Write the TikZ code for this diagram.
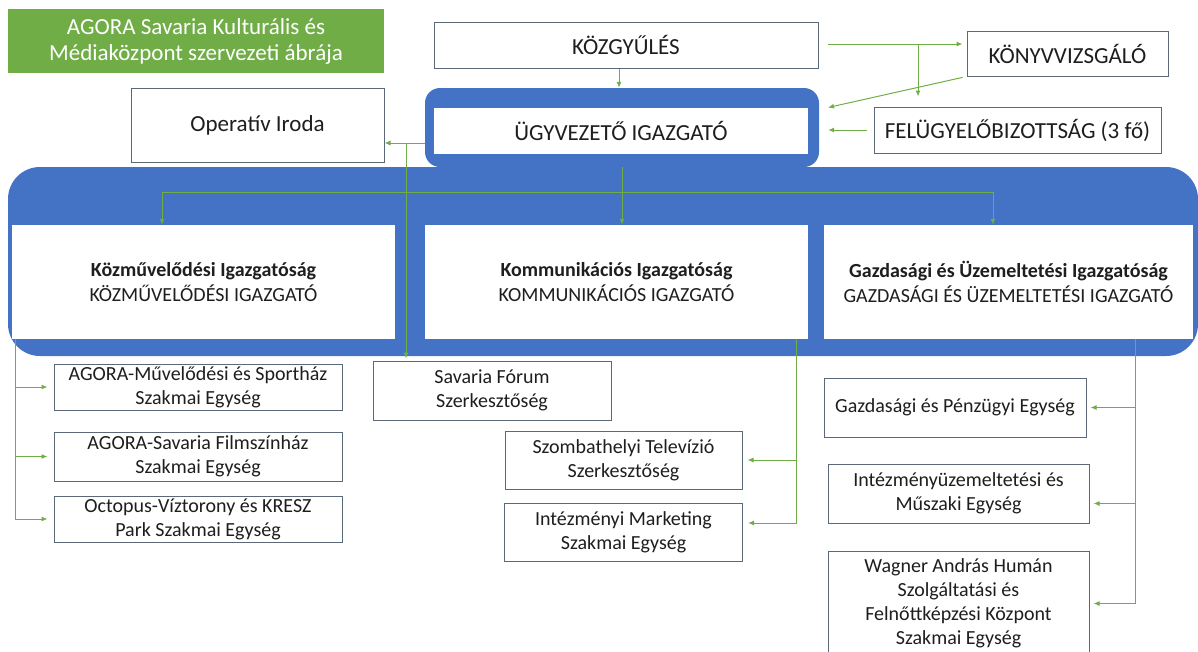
\documentclass[tikz,border=0pt]{standalone}
\usepackage{fontspec}
\setmainfont{Carlito}
\usetikzlibrary{positioning,arrows.meta}
\definecolor{agoragreen}{HTML}{70AD47}
\definecolor{agorablue}{HTML}{4472C4}
\definecolor{boxline}{HTML}{5A6878}
\definecolor{inktext}{HTML}{1E1E1E}

\begin{document}
\begin{tikzpicture}[x=1pt,y=-1pt,
	unitbox/.style={draw=boxline,line width=1pt,fill=white,text=inktext,align=center,inner sep=0pt,font=\fontsize{20}{24}\selectfont},
	topbox/.style={unitbox,font=\fontsize{23}{27}\selectfont},
	headbox/.style={fill=white,text=inktext,align=center,inner sep=0pt,minimum width=383pt,minimum height=114pt,font=\fontsize{20}{25}\selectfont},
	blueframe/.style={fill=agorablue,rounded corners=#1,inner sep=0pt},
	wire/.style={draw=agoragreen,line width=1pt},
	feed/.style={wire,-{Latex[length=6pt,width=5pt]}}]
		\useasboundingbox (0,0) rectangle (1198,651);

		\node[fill=agoragreen,text=white,align=center,inner sep=0pt,minimum width=376pt,minimum height=64pt,font=\fontsize{23}{26}\selectfont]	(title)	at (196,41)	{AGORA Savaria Kulturális és\\Médiaközpont szervezeti ábrája};

		\node[blueframe=32pt,minimum width=1190pt,minimum height=189pt]		(bigframe)	at (603,261.5)	{};
		\node[blueframe=15pt,minimum width=394pt,minimum height=79pt]		(ugyvframe)	at (622,127.5)	{};

		\node[topbox,minimum width=384pt,minimum height=46pt]				(kozgyules)	at (626,45)		{KÖZGYŰLÉS};
		\node[topbox,minimum width=201pt,minimum height=45pt]				(konyv)		at (1067.5,53.5)	{KÖNYVVIZSGÁLÓ};
		\node[topbox,minimum width=287pt,minimum height=46pt]				(felugyelo)	at (1017.5,130)	{FELÜGYELŐBIZOTTSÁG (3 fő)};
		\node[topbox,draw=none,minimum width=374pt,minimum height=46pt]		(ugyv)		at (621,131)	{ÜGYVEZETŐ IGAZGATÓ};
		\node[topbox,minimum width=253pt,minimum height=74pt]				(operativ)	at (257.5,125)	{Operatív Iroda};

		\node[headbox]						(kozmuv)	at (203.5,282)	{\textbf{Közművelődési Igazgatóság}\\KÖZMŰVELŐDÉSI IGAZGATÓ};
		\node[headbox]						(kommun)	at (616.5,282)	{\textbf{Kommunikációs Igazgatóság}\\KOMMUNIKÁCIÓS IGAZGATÓ};
		\node[headbox,minimum width=369pt]	(gazd)		at (1008.5,282)	{\textbf{Gazdasági és Üzemeltetési Igazgatóság}\\GAZDASÁGI ÉS ÜZEMELTETÉSI IGAZGATÓ};

		\node[unitbox,minimum width=288pt,minimum height=46pt]							(agora1)	at (198,387)	{AGORA-Művelődési és Sportház\\Szakmai Egység};
		\node[unitbox,minimum width=288pt,minimum height=49pt,below=21pt of agora1]		(agora2)	{AGORA-Savaria Filmszínház\\Szakmai Egység};
		\node[unitbox,minimum width=288pt,minimum height=46pt,below=14pt of agora2]		(octopus)	{Octopus-Víztorony és KRESZ\\Park Szakmai Egység};
		\node[unitbox,minimum width=238pt,minimum height=59pt]							(savaria)	at (492,390.5)	{Savaria Fórum\\Szerkesztőség};
		\node[unitbox,minimum width=237pt,minimum height=58pt]							(szombtv)	at (623.5,460)	{Szombathelyi Televízió\\Szerkesztőség};
		\node[unitbox,minimum width=238pt,minimum height=58pt,below=13pt of szombtv]	(marketing)	{Intézményi Marketing\\Szakmai Egység};
		\node[unitbox,minimum width=262pt,minimum height=59pt]							(penzugy)	at (955,407.5)	{Gazdasági és Pénzügyi Egység};
		\node[unitbox,minimum width=261pt,minimum height=59pt,below=26pt of penzugy,xshift=3.5pt]	(muszaki)	{Intézményüzemeltetési és\\Műszaki Egység};
		\node[unitbox,minimum width=261pt,minimum height=105pt,below=27pt of muszaki]	(wagner)	{Wagner András Humán\\Szolgáltatási és\\Felnőttképzési Központ\\Szakmai Egység};

		\coordinate (split)		at (918,44);
		\coordinate (opjoin)	at (406,143);
		\coordinate (busl)		at (162,192);
		\coordinate (busr)		at (993,192);
		\coordinate (lbus)		at ([xshift=4pt]kozmuv.south west);
		\coordinate (cbus)		at ([xshift=-12pt]kommun.south east);
		\coordinate (rbus)		at ([xshift=-58pt]gazd.south east);

		\draw[feed] ([xshift=-7pt]kozgyules.south) -- ([xshift=-3pt]ugyvframe.north);
		\draw[wire,shorten <=9pt] (kozgyules.east |- split) -- (split);
		\draw[feed,shorten >=4pt] (split) -- (konyv.west |- split);
		\draw[feed,shorten >=10pt] (split) -- (split |- felugyelo.north);
		\draw[feed,shorten <=4pt,shorten >=9pt] (konyv.south west) -- ([yshift=18pt]ugyvframe.east);
		\draw[feed,shorten <=7pt,shorten >=9pt] (felugyelo.west) -- (felugyelo.west -| ugyvframe.east);
		\draw[feed] (ugyvframe.west |- opjoin) -- (operativ.east |- opjoin);
		\draw[feed,shorten >=2pt] (opjoin) -- (opjoin |- savaria.north);
		\draw[feed] (ugyvframe.south) -- (ugyvframe.south |- kommun.north);
		\draw[wire] (busl) -- (busr);
		\draw[feed] (busl) -- (busl |- kozmuv.north);
		\draw[feed] (busr) -- (busr |- gazd.north);

		\draw[feed,shorten >=6pt] (lbus) |- (agora1.west);
		\draw[feed,shorten >=6pt] (lbus) |- (agora2.west);
		\draw[feed,shorten >=6pt] (lbus) |- (octopus.west);
		\draw[feed,shorten >=5pt] (cbus) |- (szombtv.east);
		\draw[feed,shorten >=5pt] (cbus) |- ([yshift=9pt]marketing.east);
		\draw[feed,shorten >=4pt] (rbus) |- (penzugy.east);
		\draw[feed,shorten >=4pt] (rbus) |- ([yshift=-10pt]muszaki.east);
		\draw[feed,shorten >=4pt] (rbus) |- (wagner.east);
	\end{tikzpicture}
\end{document}
